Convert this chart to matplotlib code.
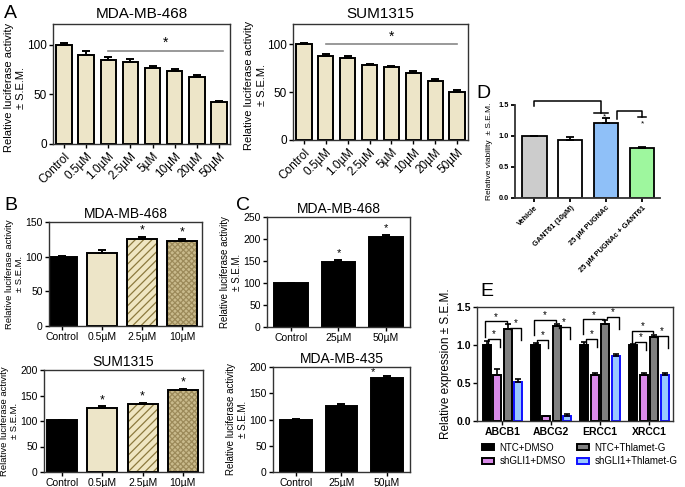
import numpy as np
import matplotlib
matplotlib.use("Agg")
import matplotlib.pyplot as plt
from matplotlib.patches import Patch

plt.rcParams["font.family"] = ["Liberation Sans", "DejaVu Sans"]
plt.rcParams["hatch.linewidth"] = 0.9

W, H = 685, 487


def box(l, t, r, b):
    # pixel box -> figure fraction
    return [l / W, 1 - b / H, (r - l) / W, (b - t) / H]


# ---- data ----
a_doses = ["Control", "0.5µM", "1.0µM", "2.5µM", "5µM", "10µM", "20µM", "50µM"]
a468 = [100, 90, 85, 83, 77, 74, 68, 42]
a468_err = [1.5, 3.5, 2.5, 2.5, 2.0, 2.0, 2.0, 1.5]
a1315 = [100, 88, 86, 78, 76, 70, 62, 50]
a1315_err = [1.5, 1.5, 1.5, 1.5, 1.5, 1.5, 1.5, 2.0]

b_doses = ["Control", "0.5µM", "2.5µM", "10µM"]
b468 = [100, 106, 125, 122]
b468_err = [1.5, 3.0, 3.5, 3.5]
b1315 = [101, 126, 133, 160]
b1315_err = [1.0, 2.5, 2.5, 3.0]

c_doses = ["Control", "25µM", "50µM"]
c468 = [100, 148, 205]
c468_err = [0.5, 4.0, 4.0]
c435 = [100, 125, 180]
c435_err = [1.0, 5.0, 3.0]

d_groups = ["Vehicle", "GANT61 (10µM)", "25 µM PUGNAc", "25 µM PUGNAc + GANT61"]
d_vals = [1.0, 0.94, 1.21, 0.80]
d_err = [0.0, 0.04, 0.08, 0.03]

e_genes = ["ABCB1", "ABCG2", "ERCC1", "XRCC1"]
e_series = ["NTC+DMSO", "shGLI1+DMSO", "NTC+Thlamet-G", "shGLI1+Thlamet-G"]
e_ntc_dmso = [1.0, 1.0, 1.0, 1.0]
e_sh_dmso = [0.60, 0.06, 0.60, 0.60]
e_ntc_thg = [1.21, 1.25, 1.28, 1.10]
e_sh_thg = [0.51, 0.07, 0.85, 0.60]
e_ntc_dmso_err = [0.05, 0.02, 0.04, 0.01]
e_sh_dmso_err = [0.08, 0.01, 0.03, 0.03]
e_ntc_thg_err = [0.06, 0.03, 0.05, 0.03]
e_sh_thg_err = [0.04, 0.02, 0.03, 0.03]
# bracket heights per gene: (ntc-sh dmso, ntc dmso-thg, thg ntc-sh)
e_br1 = [1.08, 1.07, 1.08, 1.04]
e_br2 = [1.31, 1.33, 1.34, 1.19]
e_br3 = [1.23, 1.24, 1.37, 1.12]

BEIGE = "#ede5c8"
YLAB = "Relative luciferase activity\n± S.E.M."

fig = plt.figure(figsize=(W / 100, H / 100), dpi=100)


def bars(ax, vals, errs, colors, width, lw=1.4, edge="black", cap=3):
    x = np.arange(len(vals))
    ax.bar(x, vals, width, color=colors, edgecolor=edge, linewidth=lw, zorder=2)
    ax.errorbar(x, vals, yerr=[np.zeros(len(vals)), errs], fmt="none",
                ecolor="black", elinewidth=lw, capsize=cap, capthick=lw, zorder=3)
    return x


def style(ax, lw=1.0, size=8):
    for s in ax.spines.values():
        s.set_linewidth(lw)
        s.set_color("#333333")
    ax.tick_params(length=3, width=lw, labelsize=size, pad=1.5)


# ---- A ----
for (vals, errs, rect, title, line, star, lx, labx) in [
    (a468, a468_err, box(53, 24, 230, 144), "MDA-MB-468", 94, 102, (2, 7.2), -0.15),
    (a1315, a1315_err, box(293, 24, 468, 140), "SUM1315", 100, 108, (1, 7.0), -0.15),
]:
    ax = fig.add_axes(rect)
    x = bars(ax, vals, errs, BEIGE, 0.7)
    ax.set_xlim(-0.5, 7.5)
    ax.set_ylim(0, 121)
    ax.set_yticks([0, 50, 100])
    ax.set_xticks(x)
    ax.set_xticklabels(a_doses, rotation=45, ha="right", rotation_mode="anchor")
    style(ax, size=8.5)
    ax.set_ylabel(YLAB, fontsize=8, linespacing=1.3)
    ax.yaxis.set_label_coords(labx, 0.47)
    ax.set_title(title, fontsize=11, pad=4)
    ax.plot(lx, [line, line], color="#888888", lw=1.2, zorder=4)
    ax.text(sum(lx) / 2, star, "*", ha="center", va="center", fontsize=10)

fig.text(4 / W, 1 - 18 / H, "A", fontsize=14)


# ---- B ----
def hatched_bars(ax, vals, errs):
    x = np.arange(len(vals))
    faces = ["black", BEIGE, "#efe6c2", "#c9ba8c"]
    hatches = [None, None, "////", "xxxxxx"]
    hcols = ["black", "black", "#8c7a3e", "#9c8a5a"]
    for i in range(len(vals)):
        ax.bar(x[i], vals[i], 0.75, color=faces[i], edgecolor=hcols[i],
               hatch=hatches[i], linewidth=0, zorder=2)
        ax.bar(x[i], vals[i], 0.75, fill=False, edgecolor="black",
               linewidth=1.4, zorder=2)
    ax.errorbar(x, vals, yerr=[np.zeros(len(vals)), errs], fmt="none",
                ecolor="black", elinewidth=1.4, capsize=3, capthick=1.4, zorder=3)
    return x


for (vals, errs, rect, title, ymax, stars, xl) in [
    (b468, b468_err, box(49, 222, 202, 326), "MDA-MB-468", 150, [2, 3], -0.33),
    (b1315, b1315_err, box(44, 370, 203, 472), "SUM1315", 200, [1, 2, 3], -0.45),
]:
    ax = fig.add_axes(rect)
    x = hatched_bars(ax, vals, errs)
    ax.set_xlim(xl, 3.5)
    ax.set_ylim(0, ymax)
    ax.set_yticks(np.arange(0, ymax + 1, 50))
    ax.set_xticks(x)
    ax.set_xticklabels(b_doses)
    style(ax, size=7.5)
    ax.set_ylabel(YLAB, fontsize=6.8, linespacing=1.2, labelpad=1)
    ax.set_title(title, fontsize=10, pad=3)
    for i in stars:
        ax.text(x[i], vals[i] + errs[i] + ymax * 0.06, "*", ha="center",
                va="center", fontsize=9)

fig.text(4 / W, 1 - 210 / H, "B", fontsize=14)

# ---- C ----
for (vals, errs, rect, title, ymax, stars) in [
    (c468, c468_err, box(267, 217, 410, 327), "MDA-MB-468", 250, [(1, None), (2, None)]),
    (c435, c435_err, box(273, 367, 410, 472), "MDA-MB-435", 200, [(1.68, 190)]),
]:
    ax = fig.add_axes(rect)
    x = bars(ax, vals, errs, "black", 0.7)
    ax.set_xlim(-0.5, 2.5)
    ax.set_ylim(0, ymax)
    ax.set_yticks(np.arange(0, ymax + 1, 50))
    ax.set_xticks(x)
    ax.set_xticklabels(c_doses)
    style(ax, size=7.5)
    ax.set_ylabel(YLAB, fontsize=7, linespacing=1.2, labelpad=1)
    ax.set_title(title, fontsize=10, pad=3)
    for (i, y) in stars:
        if y is None:
            y = vals[int(i)] + errs[int(i)] + ymax * 0.06
        ax.text(i, y, "*", ha="center", va="center", fontsize=8)

fig.text(236 / W, 1 - 210 / H, "C", fontsize=14)

# ---- D ----
ax = fig.add_axes(box(515, 105, 660, 198))
x = bars(ax, d_vals, d_err, ["#cccccc", "white", "#8fc0f8", "#9ef79e"], 0.68,
         lw=1.3, cap=3)
ax.set_xlim(-0.54, 3.5)
ax.set_ylim(0, 1.5)
ax.set_yticks([0, 0.5, 1.0, 1.5])
ax.set_yticklabels(["0.0", "0.5", "1.0", "1.5"], fontweight="bold")
ax.set_xticks(x)
ax.set_xticklabels(d_groups, rotation=45, ha="right", rotation_mode="anchor",
                   fontweight="bold")
ax.spines["top"].set_visible(False)
ax.spines["right"].set_visible(False)
style(ax, lw=1.3, size=5.3)
ax.set_ylabel("Relative viability  ± S.E.M.", fontsize=6)
ax.yaxis.set_label_coords(-0.15, 0.5)
kw = dict(color="black", lw=1.1, clip_on=False)
ax.plot([0, 0, 1.85, 1.85], [1.48, 1.57, 1.57, 1.37], **kw)
ax.plot([1.65, 2.05], [1.37, 1.37], **kw)
ax.plot([2.29, 2.29, 3.0, 3.0], [1.27, 1.41, 1.41, 1.30], **kw)
ax.plot([2.88, 3.1], [1.30, 1.30], **kw)
ax.text(1.96, 1.31, "*", ha="center", va="center", fontsize=6)
ax.text(3.0, 1.19, "*", ha="center", va="center", fontsize=6)
fig.text(476 / W, 1 - 98 / H, "D", fontsize=14)

# ---- E ----
ax = fig.add_axes(box(477, 307, 673, 421))
xg = np.arange(len(e_genes))
d = 0.215
bw = 0.165
e_vals = [e_ntc_dmso, e_sh_dmso, e_ntc_thg, e_sh_thg]
e_errs = [e_ntc_dmso_err, e_sh_dmso_err, e_ntc_thg_err, e_sh_thg_err]
faces = ["black", "#d98ae8", "#808080", "#99c8ff"]
edges = ["black", "black", "black", "#1010ff"]
offs = [-1.5 * d, -0.5 * d, 0.5 * d, 1.5 * d]
for k in range(4):
    ax.bar(xg + offs[k], e_vals[k], bw, color=faces[k], edgecolor=edges[k],
           linewidth=1.4, zorder=2, label=e_series[k])
    ax.errorbar(xg + offs[k], e_vals[k], yerr=[np.zeros(4), e_errs[k]], fmt="none",
                ecolor="black", elinewidth=1.2, capsize=2, capthick=1.2, zorder=3)
kw = dict(color="black", lw=1.0)
for g in range(4):
    c = xg[g]
    h1, h2, h3 = e_br1[g], e_br2[g], e_br3[g]
    # NTC+DMSO vs shGLI1+DMSO
    x1, x2 = c + offs[0] + 0.03, c + offs[1] + 0.05
    ax.plot([x1, x1, x2, x2], [h1 - 0.05, h1, h1, h1 - 0.11], **kw)
    ax.text((x1 + x2) / 2, h1 + 0.06, "*", ha="center", va="center", fontsize=7)
    # NTC+DMSO vs NTC+Thlamet-G
    x1, x2 = c + offs[0] - 0.03, c + offs[2] - 0.02
    ax.plot([x1, x1, x2, x2], [h2 - 0.2, h2, h2, h2 - 0.03], **kw)
    ax.text((x1 + x2) / 2, h2 + 0.06, "*", ha="center", va="center", fontsize=7)
    # NTC+Thlamet-G vs shGLI1+Thlamet-G
    x1, x2 = c + offs[2] + 0.04, c + offs[3] + 0.06
    ax.plot([x1, x1, x2, x2], [h3 - 0.02, h3, h3, h3 - 0.16], **kw)
    ax.text((x1 + x2) / 2, h3 + 0.06, "*", ha="center", va="center", fontsize=7)
ax.set_xlim(-0.52, 3.49)
ax.set_ylim(0, 1.5)
ax.set_yticks([0, 0.5, 1.0, 1.5])
ax.set_yticklabels(["0.0", "0.5", "1.0", "1.5"], fontweight="bold")
ax.set_xticks(xg)
ax.set_xticklabels(e_genes, fontweight="bold")
style(ax, size=7.5)
ax.set_ylabel("Relative expression ± S.E.M.", fontsize=8.5)
ax.yaxis.set_label_coords(-0.125, 0.5)
handles = [Patch(facecolor=faces[k], edgecolor=edges[k], linewidth=1.4) for k in range(4)]
leg_kw = dict(loc="upper left", ncol=1, frameon=False, handlelength=1.3,
              handleheight=0.6, handletextpad=0.55, labelspacing=0.35,
              prop=dict(size=7))
fig.legend(handles[:2], e_series[:2], bbox_to_anchor=(473 / W, 1 - 434 / H), **leg_kw)
fig.legend(handles[2:], e_series[2:], bbox_to_anchor=(568 / W, 1 - 434 / H), **leg_kw)
fig.text(480 / W, 1 - 296 / H, "E", fontsize=14)

fig.savefig("out.png", dpi=100)
